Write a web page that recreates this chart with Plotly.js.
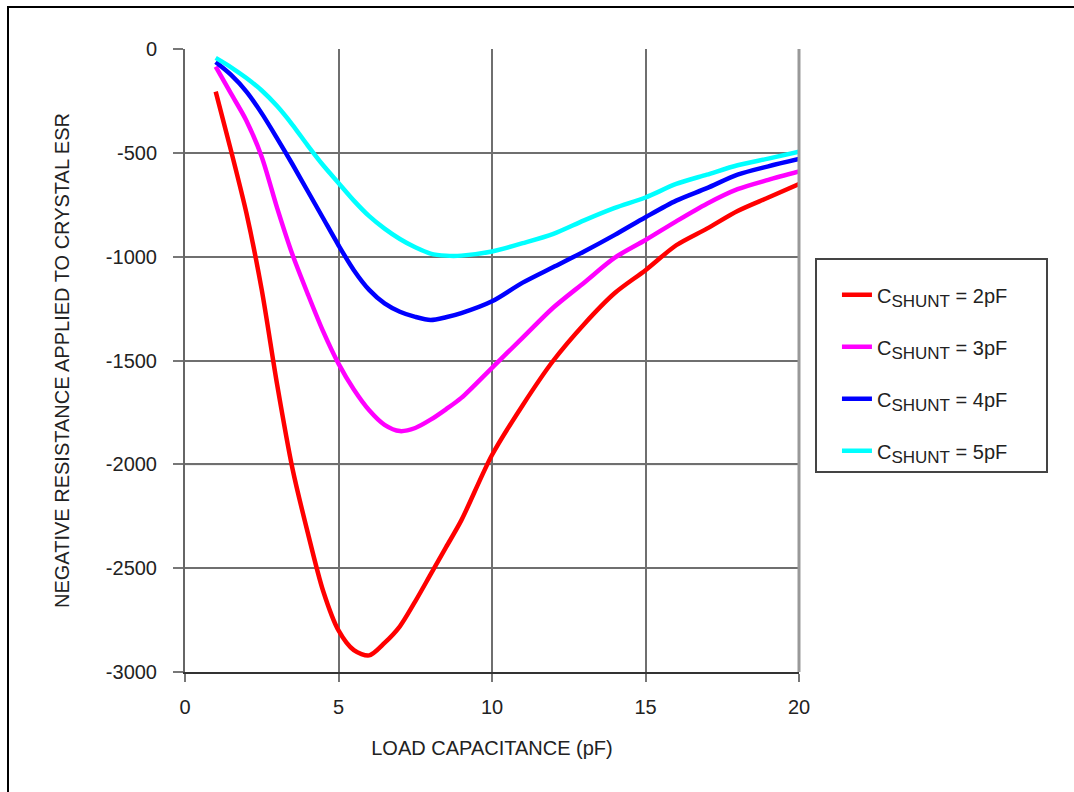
<!DOCTYPE html>
<html>
<head>
<meta charset="utf-8">
<script src="https://cdn.plot.ly/plotly-3.0.1.min.js"></script>
<style>
  html, body { margin: 0; padding: 0; background: #fff; }
  #chart { width: 1074px; height: 792px; }
  #frame { position: absolute; left: 7px; top: 6px; width: 1080px; height: 800px;
           border-left: 2px solid #000; border-top: 2px solid #000; pointer-events: none; }
</style>
</head>
<body>
<div id="chart"></div>
<div id="frame"></div>
<script>
// Load capacitance (pF)
const loadCap = [1, 1.5, 2, 2.5, 3, 3.5, 4, 4.5, 5, 5.5, 6, 6.5, 7, 7.5, 8, 8.5, 9, 10, 11, 12, 13, 14, 15, 16, 17, 18, 19, 20];

// Negative resistance applied to crystal ESR, per shunt capacitance
const shunt2pF = [-205, -490, -790, -1160, -1615, -2020, -2330, -2610, -2800, -2895, -2920, -2860, -2780, -2660, -2530, -2400, -2270, -1955, -1715, -1500, -1325, -1175, -1065, -945, -865, -780, -715, -650];
const shunt3pF = [-85, -215, -345, -520, -765, -990, -1180, -1360, -1515, -1640, -1740, -1810, -1840, -1825, -1785, -1735, -1680, -1535, -1390, -1245, -1125, -1005, -920, -830, -745, -675, -630, -590];
const shunt4pF = [-63, -125, -205, -310, -430, -555, -685, -815, -945, -1065, -1160, -1225, -1265, -1290, -1305, -1292, -1272, -1215, -1125, -1050, -975, -895, -810, -730, -670, -605, -565, -530];
const shunt5pF = [-43, -88, -140, -200, -275, -365, -465, -560, -645, -730, -805, -865, -915, -955, -985, -995, -995, -975, -935, -890, -825, -765, -715, -650, -605, -560, -528, -495];

const PAD = '\u00a0\u00a0\u00a0\u00a0\u00a0\u00a0';
const SUB = (t) => 'C<sub><span style="font-size:17px">SHUNT</span></sub> = ' + t + PAD;
const seriesNames = [SUB('2pF'), SUB('3pF'), SUB('4pF'), SUB('5pF')];
const seriesColors = ['#ff0000', '#ff00ff', '#0000ff', '#00ffff'];
const seriesValues = [shunt2pF, shunt3pF, shunt4pF, shunt5pF];

const xTicks = [0, 5, 10, 15, 20];
const yTicks = [0, -500, -1000, -1500, -2000, -2500, -3000];

const FONT = 'Liberation Sans, Arial, Helvetica, sans-serif';
const TXT = '#222';

const traces = seriesValues.map((vals, i) => ({
  x: loadCap,
  y: vals,
  type: 'scatter',
  mode: 'lines',
  name: seriesNames[i],
  legendgroup: 'g' + i,
  line: { color: seriesColors[i], width: 4.5, shape: 'spline', smoothing: 0.8 }
}));

const layout = {
  width: 1074,
  height: 792,
  paper_bgcolor: '#ffffff',
  plot_bgcolor: '#ffffff',
  margin: { l: 185, r: 275, t: 49, b: 120 },
  font: { family: FONT, size: 20, color: TXT },
  showlegend: true,
  legend: {
    x: 1.026, y: 0.665, xanchor: 'left', yanchor: 'top',
    bgcolor: '#ffffff', bordercolor: '#444', borderwidth: 2,
    font: { family: FONT, size: 20, color: TXT },
    tracegroupgap: 23,
    indentation: 20,
    title: { text: ' ', font: { size: 12 } }
  },
  xaxis: {
    range: [0, 20],
    tickvals: xTicks,
    ticktext: xTicks.map(String),
    ticks: 'outside', ticklen: 8, tickcolor: '#777', tickwidth: 2,
    ticklabelstandoff: 8,
    showgrid: true, gridcolor: '#6f6f6f', gridwidth: 2,
    zeroline: false,
    showline: true, linecolor: '#333', linewidth: 2, mirror: false,
    tickfont: { family: FONT, size: 20, color: TXT },
    title: { text: 'LOAD CAPACITANCE (pF)', font: { family: FONT, size: 20, color: TXT }, standoff: 24 },
    fixedrange: true
  },
  yaxis: {
    range: [-3000, 0],
    tickvals: yTicks,
    ticktext: yTicks.map(String),
    ticks: 'outside', ticklen: 10, tickcolor: '#777', tickwidth: 2,
    ticklabelstandoff: 12,
    showgrid: true, gridcolor: '#6f6f6f', gridwidth: 2,
    zeroline: false,
    showline: true, linecolor: '#666', linewidth: 2, mirror: false,
    tickfont: { family: FONT, size: 20, color: TXT },
    title: { text: 'NEGATIVE RESISTANCE APPLIED TO CRYSTAL ESR', font: { family: FONT, size: 20, color: TXT }, standoff: 31 },
    fixedrange: true
  },
  shapes: [
    { type: 'line', xref: 'paper', yref: 'y', x0: 0, x1: 1, y0: yTicks[4], y1: yTicks[4], layer: 'below', line: { color: '#bbb', width: 2 } },
    { type: 'line', xref: 'paper', yref: 'paper', x0: 1, x1: 1, y0: 0, y1: 1, layer: 'above', line: { color: '#999', width: 3 } }
  ]
};

Plotly.newPlot('chart', traces, layout, { displayModeBar: false, staticPlot: true });
</script>
</body>
</html>
